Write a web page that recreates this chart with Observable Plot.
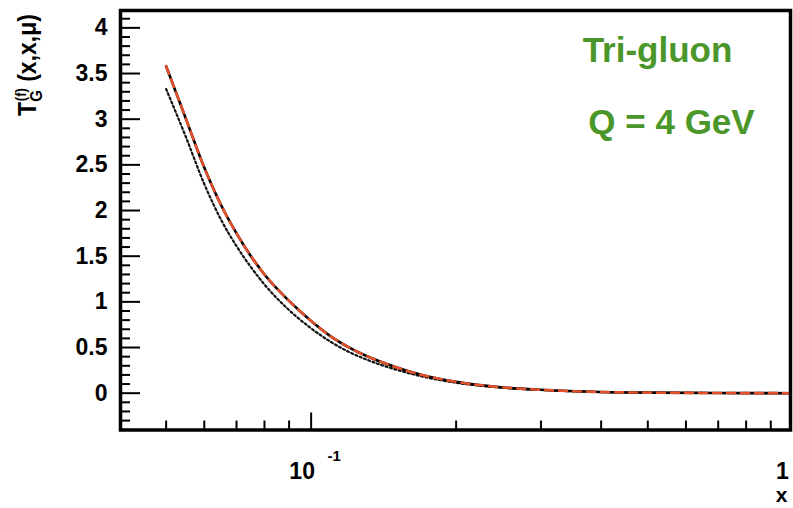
<!DOCTYPE html>
<html><head><meta charset="utf-8">
<script src="https://cdn.jsdelivr.net/npm/d3@7"></script>
<script src="https://cdn.jsdelivr.net/npm/@observablehq/plot@0.6"></script>
<style>html,body{margin:0;padding:0;background:#fff;} svg{display:block}</style>
</head><body><div id="chart"></div>
<script>
// ---- data ----
const xValues      = [0.05, 0.055, 0.06, 0.065, 0.07, 0.075, 0.08, 0.09, 0.1, 0.11, 0.12, 0.13, 0.15, 0.17, 0.2, 0.25, 0.3, 0.4, 0.5, 0.7, 1.0];
const solidValues  = [3.58, 3.00, 2.47, 2.06, 1.75, 1.50, 1.30, 1.01, 0.79, 0.62, 0.50, 0.41, 0.285, 0.20, 0.124, 0.063, 0.037, 0.013, 0.006, 0.002, 0.0];
const dottedValues = [3.33, 2.80, 2.29, 1.90, 1.61, 1.38, 1.19, 0.91, 0.71, 0.56, 0.45, 0.37, 0.258, 0.183, 0.114, 0.059, 0.035, 0.012, 0.005, 0.002, 0.0];
const yMajorTicks  = [0, 0.5, 1, 1.5, 2, 2.5, 3, 3.5, 4];
const yTickLabels  = ["0", "0.5", "1", "1.5", "2", "2.5", "3", "3.5", "4"];
const yMinorTicks  = [-0.4,-0.3,-0.2,-0.1,0.1,0.2,0.3,0.4,0.6,0.7,0.8,0.9,1.1,1.2,1.3,1.4,1.6,1.7,1.8,1.9,2.1,2.2,2.3,2.4,2.6,2.7,2.8,2.9,3.1,3.2,3.3,3.4,3.6,3.7,3.8,3.9,4.1];
const xMajorTicks  = [0.1];
const xMinorTicks  = [0.05, 0.06, 0.07, 0.08, 0.09, 0.2, 0.3, 0.4, 0.5, 0.6, 0.7, 0.8, 0.9];
const annotations  = ["Tri-gluon", "Q = 4 GeV"];

const rows = xValues.map((x, i) => ({x, solid: solidValues[i], dotted: dottedValues[i]}));
const FONT = "'Liberation Sans', Arial, Helvetica, sans-serif";
const GREEN = "#4a9628";
const RED = "#e4502a";

const tickOnly = {fill: "none", label: null, strokeWidth: 2, strokeOpacity: 1, stroke: "black"};

const chart = Plot.plot({
  width: 793, height: 508,
  marginLeft: 120, marginRight: 3, marginTop: 10, marginBottom: 78.5,
  style: {fontFamily: FONT, fontWeight: "bold", background: "white", color: "black"},
  x: {type: "log", domain: [0.0402, 0.989], axis: null},
  y: {domain: [-0.403, 4.19], axis: null},
  marks: [
    Plot.axisY(yMinorTicks, {...tickOnly, tickSize: -10}),
    Plot.axisY(yMajorTicks, {...tickOnly, tickSize: -20}),
    Plot.axisY(yMajorTicks, {tickSize: 0, tickPadding: 13, fontSize: 23, fill: "black", fillOpacity: 1, label: null,
      tickFormat: d => yTickLabels[yMajorTicks.indexOf(d)], ariaLabel: "ytl"}),
    Plot.axisX(xMinorTicks, {...tickOnly, tickSize: -9}),
    Plot.axisX(xMajorTicks, {...tickOnly, tickSize: -17}),
    Plot.line(rows, {x: "x", y: "dotted", stroke: "#111", strokeWidth: 2.2, strokeDasharray: "2,2.6", curve: "monotone-x", clip: true}),
    Plot.line(rows, {x: "x", y: "solid", stroke: "black", strokeWidth: 2.6, curve: "monotone-x", clip: true}),
    Plot.line(rows, {x: "x", y: "solid", stroke: RED, strokeWidth: 2.6, strokeDasharray: "8,6", curve: "monotone-x", clip: true}),
    Plot.frame({stroke: "black", strokeWidth: 3.5}),
    // x tick labels
    Plot.text(xMajorTicks, {x: d => d, frameAnchor: "bottom", text: () => "10", dx: -9, dy: 49, lineAnchor: "bottom", fontSize: 23, fill: "black", ariaLabel: "xtl"}),
    Plot.text(xMajorTicks, {x: d => d, frameAnchor: "bottom", text: () => "-1", dx: 23, dy: 31, lineAnchor: "bottom", fontSize: 15, fill: "black", ariaLabel: "xtl"}),
    Plot.text([1], {x: d => d, frameAnchor: "bottom", text: () => "1", dx: -4, dy: 49, textAnchor: "end", lineAnchor: "bottom", fontSize: 23, fill: "black", ariaLabel: "xtl"}),
    // x axis title
    Plot.text(["x"], {frameAnchor: "bottom-right", text: d => d, dx: -3, dy: 72, textAnchor: "end", lineAnchor: "bottom", fontSize: 21, fill: "black", ariaLabel: "xtl"}),
    // green annotations
    Plot.text([annotations[0]], {frameAnchor: "top-left", text: d => d, dx: 537, dy: 51, textAnchor: "middle", lineAnchor: "bottom", fontSize: 35, fill: GREEN, ariaLabel: "ann"}),
    Plot.text([annotations[1]], {frameAnchor: "top-left", text: d => d, dx: 551, dy: 123, textAnchor: "middle", lineAnchor: "bottom", fontSize: 35, fill: GREEN, ariaLabel: "ann"})
  ]
});

// horizontally stretch text like the reference rendering
function stretch(sel, s) {
  chart.querySelectorAll(sel).forEach(el => {
    const t = el.getAttribute("transform") || "";
    el.setAttribute("transform", t + ` scale(${s},1)`);
  });
}
stretch('g[aria-label="ytl"] text', 1.28);
stretch('g[aria-label="xtl"] text', 1.17);
stretch('g[aria-label="ann"] text', 1.22);

// y-axis title with sub/superscripts
const svg = d3.select(chart);
const yl = svg.append("text")
  .attr("transform", "translate(36,65) rotate(-90) scale(1,1.1)")
  .attr("text-anchor", "middle")
  .attr("font-family", FONT).attr("font-weight", "bold").attr("font-size", 23).attr("fill", "black");
yl.append("tspan").text("T");
yl.append("tspan").attr("font-size", 15).attr("dy", 5).text("G");
yl.append("tspan").attr("font-size", 13).attr("dx", -11).attr("dy", -14).text("(f)");
yl.append("tspan").attr("dy", 9).text(" (x,x,\u03bc)");

document.getElementById("chart").append(chart);
</script>
</body></html>
